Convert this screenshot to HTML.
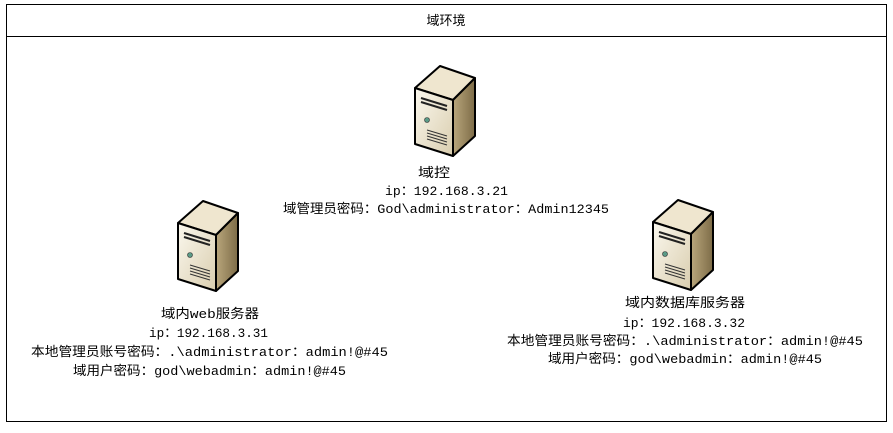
<!DOCTYPE html>
<html><head><meta charset="utf-8"><style>
html,body{margin:0;padding:0;background:#fff;}
svg text{font-family:"Liberation Mono","Noto Sans CJK SC",monospace;font-size:13px;fill:#000;}
</style></head><body>
<svg width="893" height="428" xmlns="http://www.w3.org/2000/svg">
<defs>
<linearGradient id="fr" x1="0" y1="0" x2="1" y2="1"><stop offset="0" stop-color="#fbf8ee"/><stop offset="1" stop-color="#d9cdae"/></linearGradient>
<linearGradient id="sd" x1="0" y1="0" x2="1" y2="0"><stop offset="0" stop-color="#b9a67c"/><stop offset="1" stop-color="#7d6c47"/></linearGradient>
<g id="srv">
<polygon points="2,22 27,0 62,12 40,34" fill="#efe6cf" stroke="#000" stroke-width="2" stroke-linejoin="round"/>
<polygon points="40,34 62,12 62,70 40,90" fill="url(#sd)" stroke="#000" stroke-width="2" stroke-linejoin="round"/>
<polygon points="2,22 40,34 40,90 2,78" fill="url(#fr)" stroke="#000" stroke-width="2" stroke-linejoin="round"/>
<path d="M8,32 L34,40 M8,36 L34,44" stroke="#222" stroke-width="2"/>
<circle cx="14" cy="54" r="2.5" fill="#5a9a86" stroke="#333" stroke-width="0.6"/>
<path d="M14,64 L34,70 M14,67 L34,73 M14,70 L34,76 M14,73 L34,79" stroke="#333" stroke-width="1"/>
</g>
</defs>
<rect x="6.5" y="4.5" width="880" height="417" fill="none" stroke="#000" stroke-width="1"/>
<line x1="6" y1="36.5" x2="887" y2="36.5" stroke="#000"/>
<text x="446" y="25" text-anchor="middle">域环境</text>

<use href="#srv" x="413" y="66"/>
<text x="418" y="177" textLength="32" lengthAdjust="spacingAndGlyphs">域控</text>
<text x="385" y="195" textLength="123" lengthAdjust="spacingAndGlyphs">ip：192.168.3.21</text>
<text x="283" y="213" textLength="326" lengthAdjust="spacingAndGlyphs">域管理员密码：God\administrator：Admin12345</text>

<use href="#srv" x="176" y="201"/>
<text x="161" y="318" textLength="98" lengthAdjust="spacingAndGlyphs">域内web服务器</text>
<text x="149" y="337" textLength="119" lengthAdjust="spacingAndGlyphs">ip：192.168.3.31</text>
<text x="31" y="356" textLength="357" lengthAdjust="spacingAndGlyphs">本地管理员账号密码：.\administrator：admin!@#45</text>
<text x="73" y="375" textLength="273" lengthAdjust="spacingAndGlyphs">域用户密码：god\webadmin：admin!@#45</text>

<use href="#srv" x="651" y="200"/>
<text x="625" y="307" textLength="120" lengthAdjust="spacingAndGlyphs">域内数据库服务器</text>
<text x="623" y="327" textLength="122" lengthAdjust="spacingAndGlyphs">ip：192.168.3.32</text>
<text x="507" y="345" textLength="356" lengthAdjust="spacingAndGlyphs">本地管理员账号密码：.\administrator：admin!@#45</text>
<text x="548" y="363" textLength="274" lengthAdjust="spacingAndGlyphs">域用户密码：god\webadmin：admin!@#45</text>
</svg>
</body></html>
